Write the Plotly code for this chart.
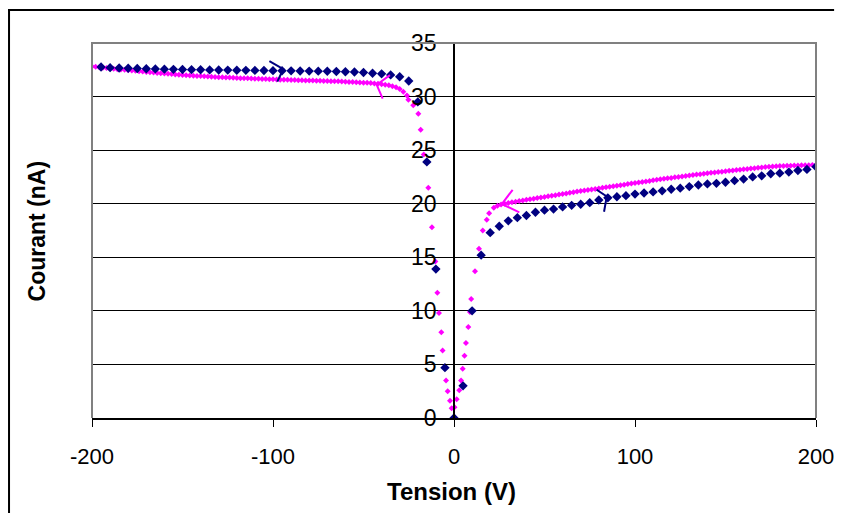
import plotly.graph_objects as go

# ---------------- data ----------------
# Blue series (sweep -200 -> +200 V), 5 V steps
blue_v = [-195, -190, -185, -180, -175, -170, -165, -160, -155, -150,
          -145, -140, -135, -130, -125, -120, -115, -110, -105, -100,
          -95, -90, -85, -80, -75, -70, -65, -60, -55, -50,
          -45, -40, -35, -30, -25, -20, -15, -10, -5, 0,
          5, 10, 15, 20, 25, 30, 35, 40, 45, 50,
          55, 60, 65, 70, 75, 80, 85, 90, 95, 100,
          105, 110, 115, 120, 125, 130, 135, 140, 145, 150,
          155, 160, 165, 170, 175, 180, 185, 190, 195, 200]
blue_i = [32.76, 32.70, 32.67, 32.64, 32.62, 32.60, 32.58, 32.56, 32.54, 32.53,
          32.51, 32.50, 32.49, 32.48, 32.47, 32.46, 32.45, 32.44, 32.43, 32.42,
          32.41, 32.40, 32.39, 32.38, 32.37, 32.36, 32.34, 32.32, 32.29, 32.25,
          32.18, 32.12, 32.02, 31.85, 31.45, 29.5, 23.9, 13.9, 4.7, 0.0,
          3.0, 10.0, 15.2, 17.3, 17.9, 18.4, 18.7, 18.9, 19.2, 19.4,
          19.5, 19.7, 19.85, 19.95, 20.1, 20.35, 20.55, 20.65, 20.75, 20.9,
          21.0, 21.1, 21.2, 21.35, 21.45, 21.6, 21.75, 21.85, 21.9, 22.0,
          22.15, 22.3, 22.5, 22.6, 22.8, 22.85, 22.95, 23.1, 23.2, 23.45]

# Magenta series (return sweep +200 -> -200 V)
mag_v_neg = [-200, -198, -196, -194, -192, -190, -188, -186, -184, -182,
             -180, -178, -176, -174, -172, -170, -168, -166, -164, -162,
             -160, -158, -156, -154, -152, -150, -148, -146, -144, -142,
             -140, -138, -136, -134, -132, -130, -128, -126, -124, -122,
             -120, -118, -116, -114, -112, -110, -108, -106, -104, -102,
             -100, -98, -96, -94, -92, -90, -88, -86, -84, -82,
             -80, -78, -76, -74, -72, -70, -68, -66, -64, -62,
             -60, -58, -56, -54, -52, -50, -48, -46, -44, -42,
             -40, -38, -36, -34, -32, -30, -28, -26]
mag_i_neg = [32.80, 32.78, 32.74, 32.70, 32.66, 32.62, 32.60, 32.56, 32.53, 32.50,
             32.46, 32.43, 32.40, 32.37, 32.33, 32.30, 32.27, 32.24, 32.21, 32.18,
             32.15, 32.12, 32.10, 32.07, 32.04, 32.01, 31.99, 31.97, 31.95, 31.93,
             31.91, 31.89, 31.87, 31.85, 31.83, 31.81, 31.80, 31.78, 31.77, 31.75,
             31.74, 31.72, 31.71, 31.70, 31.68, 31.67, 31.66, 31.64, 31.63, 31.62,
             31.61, 31.60, 31.58, 31.57, 31.56, 31.55, 31.54, 31.53, 31.52, 31.51,
             31.50, 31.49, 31.48, 31.47, 31.46, 31.45, 31.44, 31.43, 31.42, 31.40,
             31.39, 31.37, 31.35, 31.33, 31.31, 31.30, 31.28, 31.26, 31.23, 31.20,
             31.16, 31.11, 31.05, 30.97, 30.86, 30.70, 30.45, 30.10]
mag_v_knee = [-25.2, -22.5, -19.7, -18.4, -16.7, -14.2, -12.2, -10.3, -9.2, -8.3,
              -7.0, -6.3, -4.4, -3.5, -2.2, -1.3, 0.3, 1.5, 2.9, 3.9,
              4.8, 5.8, 6.6, 7.9, 8.8, 9.5, 11.6, 13.8, 15.9, 18.1, 19.4]
mag_i_knee = [29.7, 29.2, 28.4, 26.9, 24.6, 21.5, 17.8, 14.6, 11.7, 9.8,
              8.0, 6.3, 3.5, 2.5, 1.6, 0.9, 1.0, 1.75, 2.6, 3.5,
              4.6, 5.8, 7.0, 8.5, 9.9, 11.1, 13.7, 15.8, 17.5, 18.5, 19.1]
mag_v_pos = [22, 24, 26, 28, 30, 32, 34, 36, 38, 40,
             42, 44, 46, 48, 50, 52, 54, 56, 58, 60,
             62, 64, 66, 68, 70, 72, 74, 76, 78, 80,
             82, 84, 86, 88, 90, 92, 94, 96, 98, 100,
             102, 104, 106, 108, 110, 112, 114, 116, 118, 120,
             122, 124, 126, 128, 130, 132, 134, 136, 138, 140,
             142, 144, 146, 148, 150, 152, 154, 156, 158, 160,
             162, 164, 166, 168, 170, 172, 174, 176, 178, 180,
             182, 184, 186, 188, 190, 192, 194, 196, 198, 200]
mag_i_pos = [19.62, 19.80, 19.92, 20.00, 20.07, 20.13, 20.19, 20.25, 20.31, 20.37,
             20.42, 20.47, 20.53, 20.58, 20.63, 20.69, 20.74, 20.80, 20.85, 20.91,
             20.96, 21.02, 21.07, 21.13, 21.18, 21.23, 21.28, 21.33, 21.38, 21.43,
             21.48, 21.53, 21.58, 21.63, 21.68, 21.73, 21.78, 21.83, 21.88, 21.93,
             21.98, 22.03, 22.08, 22.13, 22.18, 22.23, 22.28, 22.32, 22.37, 22.41,
             22.46, 22.50, 22.55, 22.59, 22.63, 22.68, 22.72, 22.76, 22.80, 22.84,
             22.88, 22.92, 22.95, 22.99, 23.03, 23.07, 23.11, 23.14, 23.18, 23.22,
             23.25, 23.29, 23.32, 23.36, 23.39, 23.42, 23.44, 23.47, 23.49, 23.51,
             23.52, 23.54, 23.55, 23.56, 23.57, 23.58, 23.59, 23.60, 23.61, 23.62]

x_ticks = [-200, -100, 0, 100, 200]
x_ticktext = ["-200", "-100", "0", "100", "200"]
y_ticks = [0, 5, 10, 15, 20, 25, 30, 35]
y_ticktext = ["0", "5", "10", "15", "20", "25", "30", "35"]
x_title = "Tension (V)"
y_title = "Courant (nA)"

NAVY = "#000080"
MAGENTA = "#FF00FF"
FONT = "Liberation Sans, Arial, sans-serif"

mag_v = mag_v_neg + mag_v_knee + mag_v_pos
mag_i = mag_i_neg + mag_i_knee + mag_i_pos

fig = go.Figure()
fig.add_trace(go.Scatter(x=mag_v, y=mag_i, mode="markers",
                         marker=dict(symbol="diamond", size=4.6, color=MAGENTA),
                         showlegend=False))
fig.add_trace(go.Scatter(x=blue_v, y=blue_i, mode="markers",
                         marker=dict(symbol="diamond", size=7.2, color=NAVY),
                         showlegend=False))

# hand-drawn direction arrows (data coordinates)
arrows = [
    (NAVY, [(-102, 33.3), (-94.3, 32.57), (-97.6, 31.4)]),
    (NAVY, [(78.8, 21.3), (84.4, 20.67), (82.9, 19.25)]),
    (MAGENTA, [(-35.4, 32.0), (-42.7, 31.1), (-39.4, 29.8)]),
    (MAGENTA, [(32.4, 21.3), (26.4, 19.97), (36.1, 19.2)]),
]
for col, pts in arrows:
    path = "M " + " L ".join(f"{px},{py}" for px, py in pts)
    fig.add_shape(type="path", path=path, xref="x", yref="y",
                  line=dict(color=col, width=2), layer="above")

# plot area border (gray, three sides) and outer chart border (left + top visible),
# kept inside the figure so the page does not overflow
fig.add_shape(type="path", path="M 0,0 L 0,1 L 1,1 L 1,0", xref="paper", yref="paper",
              line=dict(color="#808080", width=2), layer="above")
fig.add_shape(type="path", path="M -0.1146,-0.255 L -0.1146,1.088 L 1.025,1.088",
              xref="paper", yref="paper", line=dict(color="black", width=2),
              layer="above")

fig.add_annotation(text=f"<b>{x_title}</b>", x=0.497, y=-0.197, xref="paper", yref="paper",
                   showarrow=False, xanchor="center", yanchor="middle",
                   font=dict(family=FONT, size=24, color="black"))
fig.add_annotation(text=f"<b>{y_title}</b>", x=-0.076, y=0.5, xref="paper", yref="paper",
                   showarrow=False, textangle=-90, xanchor="center", yanchor="middle",
                   font=dict(family=FONT, size=23, color="black"))

# page body has an 8px default margin: figure is sized so the page fits the window
# exactly (no scrollbars) and the plot area lands at the reference position
fig.update_layout(
    width=828, height=505,
    margin=dict(l=84, r=20, t=35, b=95, autoexpand=False),
    paper_bgcolor="white", plot_bgcolor="white",
    font=dict(family=FONT, size=22, color="black"),
    xaxis=dict(range=[-200, 200], tickvals=x_ticks, ticktext=x_ticktext,
               automargin=False, showgrid=False, zeroline=False,
               showline=True, linecolor="black", linewidth=1.5,
               ticks="outside", ticklen=7, tickcolor="black", tickwidth=1,
               ticklabelstandoff=11, tickfont=dict(size=22)),
    yaxis=dict(range=[0, 35], tickvals=y_ticks, ticktext=y_ticktext,
               anchor="free", position=0.5, automargin=False,
               showgrid=True, gridcolor="black", gridwidth=1, zeroline=False,
               showline=True, linecolor="black", linewidth=1.5,
               ticks="outside", ticklen=8, tickcolor="black", tickwidth=1,
               ticklabelstandoff=4, tickfont=dict(size=23)),
)

fig.write_html("out.html")
